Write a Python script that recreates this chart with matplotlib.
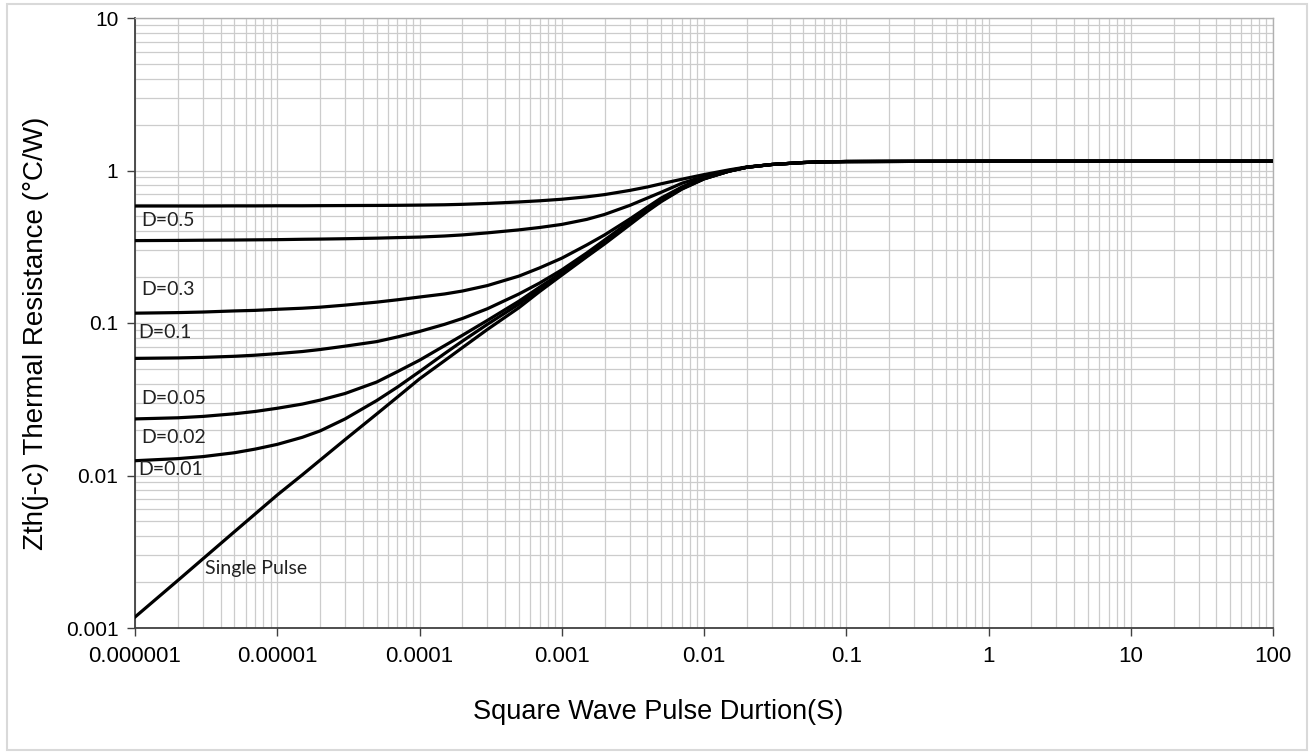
import matplotlib
matplotlib.use("Agg")
import matplotlib.pyplot as plt
from matplotlib.patches import Rectangle
from matplotlib.ticker import LogLocator, NullFormatter, FixedLocator, FixedFormatter

# --- Data ---
pulse_width = [1e-6, 2e-6, 3e-6, 5e-6, 7e-6,
               1e-5, 1.5e-5, 2e-5, 3e-5, 5e-5, 7e-5,
               1e-4, 1.5e-4, 2e-4, 3e-4, 5e-4, 7e-4,
               1e-3, 1.5e-3, 2e-3, 3e-3, 4e-3, 5e-3, 7e-3,
               1e-2, 1.5e-2, 2e-2, 3e-2, 5e-2, 7e-2,
               1e-1, 1, 10, 100]

zth_d05 = [0.585, 0.585, 0.585, 0.586, 0.586,
           0.587, 0.587, 0.588, 0.589, 0.590, 0.591,
           0.593, 0.596, 0.600, 0.608, 0.622, 0.633,
           0.648, 0.672, 0.695, 0.740, 0.780, 0.818, 0.877,
           0.940, 1.010, 1.055, 1.095, 1.128, 1.140,
           1.145, 1.150, 1.150, 1.150]
zth_d03 = [0.347, 0.348, 0.349, 0.350, 0.351,
           0.352, 0.354, 0.355, 0.357, 0.360, 0.363,
           0.366, 0.372, 0.378, 0.390, 0.408, 0.423,
           0.443, 0.478, 0.515, 0.590, 0.660, 0.720, 0.825,
           0.915, 1.000, 1.050, 1.095, 1.128, 1.140,
           1.145, 1.150, 1.150, 1.150]
zth_d01 = [0.116, 0.117, 0.118, 0.120, 0.121,
           0.123, 0.125, 0.127, 0.131, 0.137, 0.142,
           0.148, 0.155, 0.162, 0.176, 0.203, 0.230,
           0.266, 0.325, 0.378, 0.480, 0.575, 0.660, 0.780,
           0.900, 0.995, 1.050, 1.095, 1.128, 1.140,
           1.145, 1.150, 1.150, 1.150]
zth_d005 = [0.0586, 0.0590, 0.0595, 0.0605, 0.0615,
            0.0630, 0.0650, 0.0670, 0.0705, 0.0755, 0.0810,
            0.0880, 0.0980, 0.107, 0.124, 0.155, 0.183,
            0.223, 0.288, 0.350, 0.462, 0.560, 0.645, 0.772,
            0.890, 0.990, 1.050, 1.095, 1.128, 1.140,
            1.145, 1.150, 1.150, 1.150]
zth_d002 = [0.0235, 0.0239, 0.0244, 0.0254, 0.0263,
            0.0276, 0.0294, 0.0312, 0.0345, 0.0410, 0.0480,
            0.0570, 0.0710, 0.0830, 0.104, 0.139, 0.172,
            0.214, 0.280, 0.340, 0.452, 0.553, 0.637, 0.765,
            0.885, 0.990, 1.050, 1.095, 1.128, 1.140,
            1.145, 1.150, 1.150, 1.150]
zth_d001 = [0.0125, 0.0129, 0.0133, 0.0141, 0.0149,
            0.0160, 0.0178, 0.0196, 0.0235, 0.0310, 0.0380,
            0.0480, 0.0630, 0.0760, 0.0980, 0.133, 0.167,
            0.210, 0.275, 0.335, 0.447, 0.548, 0.632, 0.760,
            0.882, 0.990, 1.050, 1.095, 1.128, 1.140,
            1.145, 1.150, 1.150, 1.150]
zth_single = [0.00118, 0.00205, 0.00284, 0.00428, 0.00560,
              0.00745, 0.0101, 0.0126, 0.0172, 0.0253, 0.0327,
              0.0430, 0.0566, 0.0689, 0.0907, 0.126, 0.161,
              0.206, 0.272, 0.330, 0.440, 0.540, 0.625, 0.755,
              0.880, 0.990, 1.050, 1.095, 1.128, 1.140,
              1.145, 1.150, 1.150, 1.150]

series = [zth_d05, zth_d03, zth_d01, zth_d005, zth_d002, zth_d001, zth_single]

# curve labels: text, x, y (data coords)
label_text = ["D=0.5", "D=0.3", "D=0.1", "D=0.05", "D=0.02", "D=0.01", "Single Pulse"]
label_x = [1.1e-6, 1.1e-6, 1.05e-6, 1.1e-6, 1.1e-6, 1.05e-6, 3.1e-6]
label_y = [0.47, 0.167, 0.086, 0.0318, 0.0177, 0.0109, 0.00247]

x_ticks = [1e-6, 1e-5, 1e-4, 1e-3, 1e-2, 1e-1, 1, 10, 100]
x_tick_labels = ["0.000001", "0.00001", "0.0001", "0.001", "0.01", "0.1", "1", "10", "100"]
y_ticks = [0.001, 0.01, 0.1, 1, 10]
y_tick_labels = ["0.001", "0.01", "0.1", "1", "10"]

# --- Style ---
W, H, DPI = 1313, 752, 100
GRID_COLOR = "#cccccc"
AXIS_COLOR = "#404040"
TICK_FONT = "Liberation Sans"
LABEL_FONT = "Lato"

fig = plt.figure(figsize=(W / DPI, H / DPI), dpi=DPI)
fig.patch.set_facecolor("white")
fig.patches.append(Rectangle((7 / W, 2 / H), 1300 / W, 746 / H, transform=fig.transFigure,
                             fill=False, edgecolor="#d9d9d9", linewidth=1.5))

ax = fig.add_axes((135 / W, (752 - 628) / H, 1138 / W, 610 / H))
ax.set_xscale("log")
ax.set_yscale("log")
ax.set_xlim(1e-6, 100)
ax.set_ylim(1e-3, 10)

for zth in series:
    ax.plot(pulse_width, zth, color="black", linewidth=2.3, solid_joinstyle="round", zorder=3)

for txt, lx, ly in zip(label_text, label_x, label_y):
    ax.text(lx, ly, txt, fontsize=14, fontfamily=LABEL_FONT, color="#222222",
            ha="left", va="center", zorder=4)

ax.xaxis.set_major_locator(FixedLocator(x_ticks))
ax.xaxis.set_major_formatter(FixedFormatter(x_tick_labels))
ax.yaxis.set_major_locator(FixedLocator(y_ticks))
ax.yaxis.set_major_formatter(FixedFormatter(y_tick_labels))
ax.xaxis.set_minor_locator(LogLocator(base=10, subs=range(2, 10), numticks=20))
ax.yaxis.set_minor_locator(LogLocator(base=10, subs=range(2, 10), numticks=20))
ax.xaxis.set_minor_formatter(NullFormatter())
ax.yaxis.set_minor_formatter(NullFormatter())

ax.grid(True, which="both", color=GRID_COLOR, linewidth=0.9, zorder=0)
ax.set_axisbelow(True)

ax.tick_params(which="major", direction="out", length=6, width=1, color=AXIS_COLOR)
ax.tick_params(axis="x", which="major", labelsize=16, pad=7)
ax.tick_params(axis="y", which="major", labelsize=15, pad=6)
ax.tick_params(which="minor", length=0)
for lbl in ax.get_xticklabels() + ax.get_yticklabels():
    lbl.set_fontfamily(TICK_FONT)

for side in ("left", "bottom"):
    ax.spines[side].set_color(AXIS_COLOR)
    ax.spines[side].set_linewidth(1.3)
for side in ("top", "right"):
    ax.spines[side].set_color("#b0b0b0")
    ax.spines[side].set_linewidth(1)

ax.set_xlabel("Square Wave Pulse Durtion(S)", fontsize=19.5, fontfamily=TICK_FONT, va="center")
ax.xaxis.set_label_coords(0.46, (628 - 712) / 610)
ax.set_ylabel("Zth(j-c) Thermal Resistance (°C/W)", fontsize=20, fontfamily=TICK_FONT,
              va="center")
ax.yaxis.set_label_coords((36 - 135) / 1138, (628 - 333) / 610)

fig.savefig("out.png", dpi=DPI)
